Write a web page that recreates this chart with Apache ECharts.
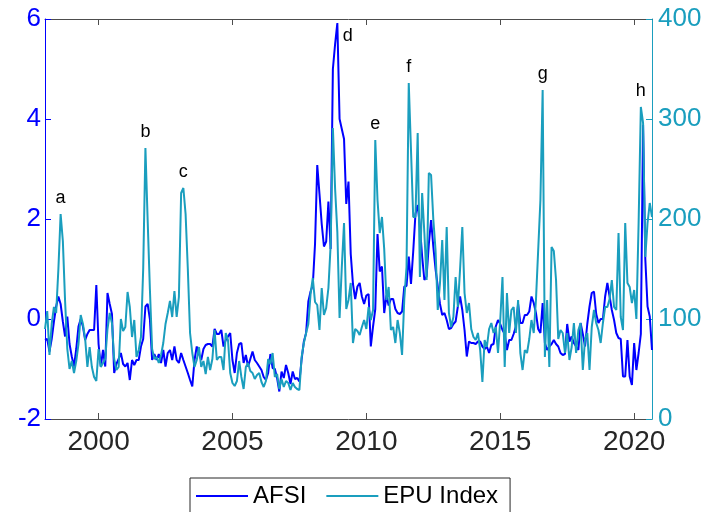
<!DOCTYPE html>
<html>
<head>
<meta charset="utf-8">
<script src="https://cdn.jsdelivr.net/npm/echarts@6/dist/echarts.min.js"></script>
<style>
  html, body { margin: 0; padding: 0; background: #fff; }
  #chart { width: 709px; height: 512px; }
</style>
</head>
<body>
<div id="chart"></div>
<script>
// Monthly series, January 1998 onwards (one row per year)
const startYear = 1998;

const afsi = [
  -0.42, -0.4, -0.65, -0.4, -0.05, 0.25, 0.45, 0.3, -0.05, -0.35, 0.05, -0.5,
  -0.75, -0.95, -0.6, -0.15, 0.0, -0.15, -0.42, -0.3, -0.22, -0.22, -0.22, 0.68,
  -0.5, -0.95, -0.62, -0.95, 0.52, 0.3, 0.1, -1.08, -0.9, -0.8, -0.68, -0.9,
  -0.95, -0.88, -1.22, -0.82, -0.92, -0.82, -0.82, -0.55, -0.4, 0.25, 0.3, 0.0,
  -0.82, -0.7, -0.82, -0.7, -0.88, -0.62, -0.95, -0.68, -0.62, -0.82, -0.55, -0.82,
  -0.88, -0.68, -0.82, -0.95, -1.08, -1.22, -1.35, -0.82, -0.55, -0.7, -0.82, -0.6,
  -0.52, -0.5, -0.5, -0.55, -0.2, -0.3, -0.3, -0.22, -0.55, -0.42, -0.35, -0.28,
  -0.82, -1.08, -0.68, -0.5, -0.48, -0.88, -0.72, -0.95, -0.8, -0.65, -0.82, -0.88,
  -0.95, -1.02, -1.16, -1.22, -1.08, -0.7, -0.98, -1.0, -1.18, -1.45, -1.05, -1.18,
  -0.92, -1.08, -1.3, -1.05, -1.2, -1.18, -1.25, -0.8, -0.45, -0.28, 0.35, 0.55,
  0.68, 1.5, 3.08, 2.5, 1.9, 1.45, 1.55, 2.35, 1.4, 5.0, 5.5, 5.92,
  4.0, 3.8, 3.6, 2.3, 2.75, 1.3, 0.7, 0.4, 0.65, 0.72, 0.45, 0.3,
  0.47, 0.5, -0.55, -0.15, 0.2, 1.7, 0.95, 1.05, 0.12, 0.47, 0.27, 0.4,
  0.4, 0.2, 0.12, 0.1, 0.15, 0.65, 0.66, 1.25, 0.7, 1.35, 2.1, 2.28,
  1.85, 1.25, 0.78, 0.85, 1.5, 1.98, 1.45, 1.0, 0.65, 0.3, 0.08, 0.12,
  -0.02, -0.2, -0.18, -0.1, -0.05, 0.25, 0.45, 0.18, -0.22, -0.75, -0.45, -0.48,
  -0.48, -0.5, -0.45, -0.45, -0.55, -0.6, -0.55, -0.68, -0.52, -0.5, -0.15, -0.02,
  -0.1, -0.22, -0.3, -0.62, -0.42, -0.42, -0.3, -0.15, 0.3, -0.08, -0.08, 0.08,
  0.08, 0.15, 0.45, 0.32, 0.12, -0.2, -0.28, 0.32, -0.48, -0.62, -0.55, -0.5,
  -0.42, -0.5, -0.55, -0.68, -0.72, -0.7, -0.1, -0.45, -0.35, -0.48, -0.55, -0.62,
  -0.08, -0.3, -0.55, -0.1, 0.25, 0.52, 0.55, 0.1, -0.08, 0.0, 0.0, 0.45,
  0.72, 0.45, 0.18, -0.02, -0.28, -0.38, -0.4, -1.15, -1.15, -0.42, -1.15, -1.32,
  -0.48, -1.02, -0.68, -0.3, 3.88, 1.2, 0.25, 0.05, -0.62
];

const epu = [
  90, 108, 64, 95, 112, 106, 150, 205, 178, 118, 70, 50,
  58, 46, 58, 75, 104, 95, 80, 52, 72, 52, 42, 38,
  70, 52, 56, 60, 90, 106, 96, 60, 49, 52, 100, 88,
  92, 127, 112, 82, 99, 62, 69, 82, 150, 271, 199, 130,
  70, 60, 62, 56, 64, 76, 95, 106, 118, 102, 128, 102,
  122, 226, 231, 205, 150, 86, 66, 52, 59, 72, 52, 58,
  45, 62, 49, 60, 89, 59, 62, 62, 49, 86, 79, 46,
  36, 33, 38, 58, 42, 30, 52, 56, 48, 46, 40, 44,
  46, 37, 32, 38, 60, 55, 66, 42, 45, 30, 40, 32,
  38, 36, 29, 36, 32, 30, 29, 62, 76, 86, 95, 125,
  141, 117, 114, 89, 131, 104, 111, 131, 174, 291, 230, 187,
  101, 152, 196, 110, 119, 136, 76, 90, 88, 84, 92, 99,
  90, 112, 99, 109, 279, 219, 186, 202, 170, 119, 132, 89,
  92, 76, 99, 86, 64, 120, 152, 336, 269, 202, 202, 286,
  142, 226, 186, 139, 246, 244, 200, 169, 109, 136, 179, 119,
  192, 106, 92, 102, 142, 112, 150, 192, 126, 106, 116, 90,
  82, 79, 86, 69, 37, 79, 72, 90, 96, 86, 92, 66,
  99, 142, 52, 126, 86, 109, 112, 86, 119, 66, 49, 69,
  66, 80, 99, 86, 119, 169, 219, 329, 62, 119, 52, 172,
  168, 139, 80, 89, 86, 66, 86, 59, 72, 96, 66, 89,
  96, 49, 80, 86, 49, 92, 109, 96, 89, 76, 96, 112,
  112, 120, 139, 112, 109, 186, 102, 89, 196, 136, 132, 116,
  129, 100, 196, 312, 296, 162, 196, 216, 202
];

const yearTicks = [2000, 2005, 2010, 2015, 2020];
const leftTicks = [-2, 0, 2, 4, 6];
const rightTicks = [0, 100, 200, 300, 400];

// Episode letters, keyed to the month index of the peak they mark
const episodes = [
  { letter: 'a', series: 'epu', index: 7 },
  { letter: 'b', series: 'epu', index: 45 },
  { letter: 'c', series: 'epu', index: 62 },
  { letter: 'd', series: 'afsi', index: 131 },
  { letter: 'e', series: 'epu', index: 148 },
  { letter: 'f', series: 'epu', index: 163 },
  { letter: 'g', series: 'epu', index: 223 },
  { letter: 'h', series: 'epu', index: 267 }
];

const BLUE = '#0000FF';
const TEAL = '#1A9EBE';
const GREY = '#4D4D4D';
const FONT = 'Liberation Sans, Arial, sans-serif';
const LINE_ICON = 'path://M0,0 L52,0 L52,2 L0,2 Z';

const monthX = i => startYear + i / 12;
const lastX = monthX(afsi.length - 1);

function pairs(values) {
  return values.map((v, i) => [monthX(i), v]);
}

function marks(key, values) {
  return episodes.filter(e => e.series === key).map(e => {
    const isD = e.letter === 'd';
    return {
      coord: [monthX(e.index), values[e.index]],
      symbol: 'rect',
      symbolSize: 1,
      itemStyle: { color: 'rgba(0,0,0,0)' },
      label: {
        show: true,
        formatter: e.letter,
        position: isD ? 'right' : 'top',
        distance: isD ? 5 : 6,
        offset: isD ? [0, 13] : [0, 0],
        color: '#000',
        fontSize: 18,
        fontFamily: FONT
      }
    };
  });
}

const chart = echarts.init(document.getElementById('chart'), null, { renderer: 'canvas' });

const xCommon = {
  type: 'value',
  min: startYear,
  max: lastX,
  splitLine: { show: false },
  axisLine: { show: true, onZero: false, lineStyle: { color: GREY, width: 1 } },
  axisTick: { show: true, inside: true, length: 6, customValues: yearTicks, lineStyle: { color: GREY } }
};

chart.setOption({
  animation: false,
  backgroundColor: '#fff',
  grid: { left: 45, right: 57, top: 19, bottom: 93, containLabel: false },
  legend: {
    data: [
      { name: 'AFSI', icon: LINE_ICON },
      { name: 'EPU Index', icon: LINE_ICON }
    ],
    left: 190,
    top: 478,
    orient: 'horizontal',
    borderColor: '#262626',
    borderWidth: 1,
    padding: [6, 12, 12, 6],
    itemWidth: 52,
    itemHeight: 2,
    itemGap: 20,
    textStyle: { fontSize: 24, color: '#000', fontFamily: FONT }
  },
  xAxis: [
    Object.assign({}, xCommon, {
      position: 'bottom',
      axisLabel: {
        show: true, customValues: yearTicks, fontSize: 28, color: '#262626',
        fontFamily: FONT, margin: 9, formatter: v => String(Math.round(v))
      }
    }),
    Object.assign({}, xCommon, {
      position: 'top',
      axisLabel: { show: false }
    })
  ],
  yAxis: [
    {
      type: 'value', position: 'left', min: -2, max: 6, interval: 2,
      splitLine: { show: false },
      axisLine: { show: true, onZero: false, lineStyle: { color: BLUE, width: 1 } },
      axisTick: { show: true, inside: true, length: 6, lineStyle: { color: BLUE } },
      axisLabel: { color: BLUE, fontSize: 26, fontFamily: FONT, margin: 4,
        customValues: leftTicks }
    },
    {
      type: 'value', position: 'right', min: 0, max: 400, interval: 100,
      splitLine: { show: false },
      axisLine: { show: true, onZero: false, lineStyle: { color: TEAL, width: 1 } },
      axisTick: { show: true, inside: true, length: 6, lineStyle: { color: TEAL } },
      axisLabel: { color: TEAL, fontSize: 26, fontFamily: FONT, margin: 6,
        customValues: rightTicks }
    }
  ],
  series: [
    {
      name: 'AFSI',
      type: 'line',
      xAxisIndex: 0,
      yAxisIndex: 0,
      data: pairs(afsi),
      symbol: 'none',
      lineStyle: { color: BLUE, width: 2 },
      itemStyle: { color: BLUE },
      z: 2,
      markPoint: { data: marks('afsi', afsi), animation: false }
    },
    {
      name: 'EPU Index',
      type: 'line',
      xAxisIndex: 0,
      yAxisIndex: 1,
      data: pairs(epu),
      symbol: 'none',
      lineStyle: { color: TEAL, width: 2 },
      itemStyle: { color: TEAL },
      z: 3,
      markPoint: { data: marks('epu', epu), animation: false }
    }
  ]
});
</script>
</body>
</html>
